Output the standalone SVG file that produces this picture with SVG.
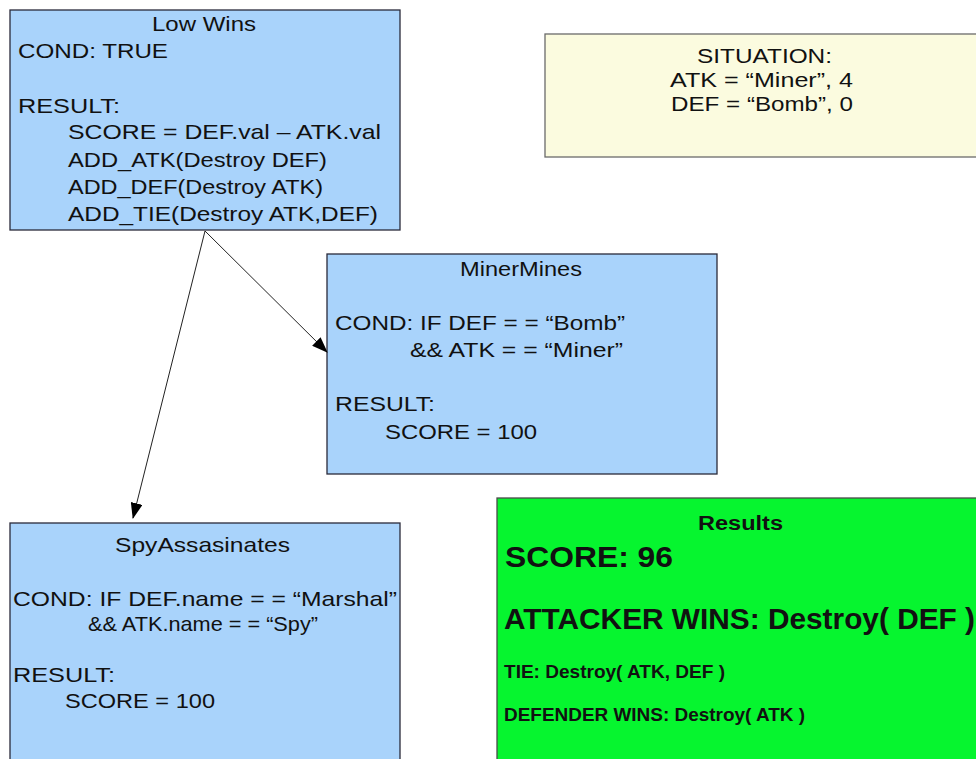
<svg xmlns="http://www.w3.org/2000/svg" width="976" height="759" viewBox="0 0 976 759">
<defs>
<style>
.box{fill:#a9d3fb;stroke:#2a2a3a;stroke-width:1.3}
.sit{fill:#fbfbdf;stroke:#6a6a6a;stroke-width:1.3}
.res{fill:#06f52f;stroke:#4a4a4a;stroke-width:1.3}
text{font-family:"Liberation Sans",Arial,sans-serif;fill:#111}
.t{font-size:21px}
.b{font-weight:bold}
.conn{stroke:#222;stroke-width:1;fill:none}
</style>
<marker id="ah" markerWidth="16" markerHeight="12" refX="15" refY="6" orient="auto" markerUnits="userSpaceOnUse">
<path d="M0,0 L16,6 L0,12 Z" fill="#000"/>
</marker>
</defs>
<rect width="976" height="759" fill="#fff"/>

<g id="situation">
<rect class="sit" x="545" y="34" width="440" height="123"/>
<text class="t" x="697" y="63" textLength="135" lengthAdjust="spacingAndGlyphs">SITUATION:</text>
<text class="t" x="670" y="87" textLength="183" lengthAdjust="spacingAndGlyphs">ATK = “Miner”, 4</text>
<text class="t" x="671" y="111" textLength="182" lengthAdjust="spacingAndGlyphs">DEF = “Bomb”, 0</text>
</g>

<g id="lowwins">
<rect class="box" x="10" y="10" width="390" height="220"/>
<text class="t" x="152" y="31" textLength="104" lengthAdjust="spacingAndGlyphs">Low Wins</text>
<text class="t" x="18" y="58" textLength="150" lengthAdjust="spacingAndGlyphs">COND: TRUE</text>
<text class="t" x="18" y="113" textLength="102" lengthAdjust="spacingAndGlyphs">RESULT:</text>
<text class="t" x="68" y="139" textLength="313" lengthAdjust="spacingAndGlyphs">SCORE = DEF.val – ATK.val</text>
<text class="t" x="68" y="167" textLength="259" lengthAdjust="spacingAndGlyphs">ADD_ATK(Destroy DEF)</text>
<text class="t" x="68" y="194" textLength="255" lengthAdjust="spacingAndGlyphs">ADD_DEF(Destroy ATK)</text>
<text class="t" x="68" y="221" textLength="310" lengthAdjust="spacingAndGlyphs">ADD_TIE(Destroy ATK,DEF)</text>
</g>

<g id="minermines">
<rect class="box" x="327" y="254" width="390" height="220"/>
<text class="t" x="460" y="276" textLength="122" lengthAdjust="spacingAndGlyphs">MinerMines</text>
<text class="t" x="335" y="330" textLength="290" lengthAdjust="spacingAndGlyphs">COND: IF DEF = = “Bomb”</text>
<text class="t" x="410" y="357" textLength="213" lengthAdjust="spacingAndGlyphs">&amp;&amp; ATK = = “Miner”</text>
<text class="t" x="335" y="411" textLength="100" lengthAdjust="spacingAndGlyphs">RESULT:</text>
<text class="t" x="385" y="439" textLength="152" lengthAdjust="spacingAndGlyphs">SCORE = 100</text>
</g>

<g id="spyassasinates">
<rect class="box" x="10" y="523" width="390" height="250"/>
<text class="t" x="115" y="552" textLength="175" lengthAdjust="spacingAndGlyphs">SpyAssasinates</text>
<text class="t" x="13" y="606" textLength="384" lengthAdjust="spacingAndGlyphs">COND: IF DEF.name = = “Marshal”</text>
<text class="t" x="88" y="631" textLength="230" lengthAdjust="spacingAndGlyphs">&amp;&amp; ATK.name = = “Spy”</text>
<text class="t" x="13" y="682" textLength="102" lengthAdjust="spacingAndGlyphs">RESULT:</text>
<text class="t" x="65" y="708" textLength="150" lengthAdjust="spacingAndGlyphs">SCORE = 100</text>
</g>

<g id="results">
<rect class="res" x="497" y="498" width="490" height="270"/>
<text class="b" x="698" y="530" font-size="20" textLength="85" lengthAdjust="spacingAndGlyphs">Results</text>
<text class="b" x="505" y="567" font-size="30" textLength="168" lengthAdjust="spacingAndGlyphs">SCORE: 96</text>
<text class="b" x="504" y="629" font-size="30" textLength="471" lengthAdjust="spacingAndGlyphs">ATTACKER WINS: Destroy( DEF )</text>
<text class="b" x="504" y="678" font-size="18" textLength="221" lengthAdjust="spacingAndGlyphs">TIE: Destroy( ATK, DEF )</text>
<text class="b" x="504" y="721" font-size="18" textLength="301" lengthAdjust="spacingAndGlyphs">DEFENDER WINS: Destroy( ATK )</text>
</g>

<g id="connectors">
<line class="conn" x1="205" y1="231" x2="327" y2="352" marker-end="url(#ah)"/>
<line class="conn" x1="205" y1="231" x2="133" y2="518" marker-end="url(#ah)"/>
</g>
</svg>
